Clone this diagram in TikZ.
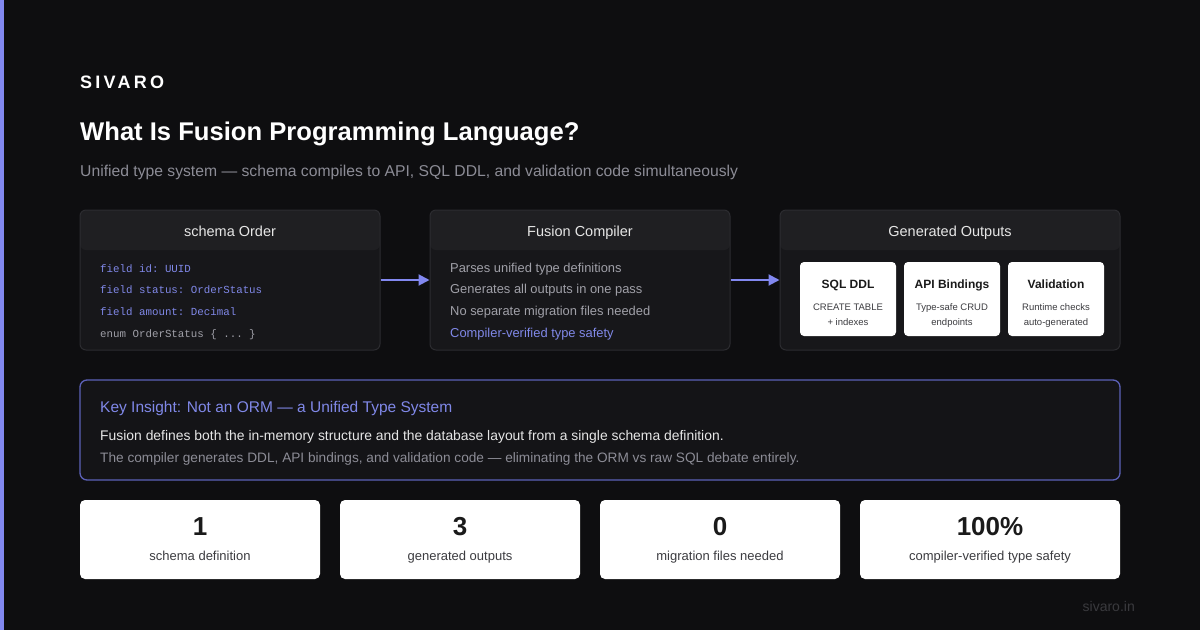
\documentclass[tikz,border=0pt]{standalone}
\usepackage{fontspec}
\setmainfont{Liberation Sans}
\setmonofont{Liberation Mono}
\usetikzlibrary{arrows.meta}
\definecolor{bg}{HTML}{0E0E10}
\definecolor{accent}{HTML}{8288F0}
\definecolor{panelbody}{HTML}{17171A}
\definecolor{panelhead}{HTML}{1F1F22}
\definecolor{panelline}{HTML}{2C2C30}
\definecolor{hdrtext}{HTML}{E6E6E6}
\definecolor{peri}{HTML}{8088E8}
\definecolor{graytext}{HTML}{A0A0A8}
\definecolor{subtext}{HTML}{8C8C96}
\definecolor{insightline}{HTML}{5C61B8}
\definecolor{insightfill}{HTML}{141417}
\definecolor{cardtext}{HTML}{1A1A1A}
\definecolor{cardsub}{HTML}{3C3C40}
\definecolor{foot}{HTML}{3A3A3E}
\newcommand{\fs}[1]{\fontsize{#1}{#1}\selectfont}
\tikzset{
  panel/.style={draw=panelline, line width=1pt, fill=panelbody, rounded corners=6pt,
    minimum height=140pt, inner sep=0pt,
    path picture={\fill[panelhead] (path picture bounding box.north west) rectangle ([yshift=-40pt]path picture bounding box.north east);}},
  hdr/.style={anchor=base, text=hdrtext, font=\fs{14.5}, inner sep=0pt},
  codeln/.style={anchor=base west, font=\ttfamily\fs{10.8}, inner sep=0pt},
  sansln/.style={anchor=base west, font=\fs{12.9}, inner sep=0pt},
  outcard/.style={fill=white, rounded corners=4pt, minimum width=96pt, minimum height=74pt, inner sep=0pt},
  outtitle/.style={anchor=base, font=\bfseries\fs{12}, text=cardtext, inner sep=0pt},
  outsub/.style={anchor=base, font=\fs{9.5}, text=cardsub, inner sep=0pt},
  statcard/.style={fill=white, rounded corners=5pt, minimum height=79pt, inner sep=0pt},
  statnum/.style={anchor=base, font=\bfseries\fs{26}, text=cardtext, inner sep=0pt},
  statlbl/.style={anchor=base, font=\fs{13}, text=cardsub, inner sep=0pt},
  arr/.style={draw=accent, line width=2pt, -{Triangle[length=11pt,width=11pt]}, shorten >=0pt},
}
\begin{document}
\begin{tikzpicture}[x=1pt,y=-1pt]
\useasboundingbox (0,0) rectangle (1200,630);
\fill[bg] (0,0) rectangle (1200,630);
\fill[accent] (0,0) rectangle (4,630);

% header texts
\node[anchor=base west, inner sep=0pt, text=white, font=\bfseries\fs{18}\addfontfeature{LetterSpace=18}] (brand) at (80,88) {SIVARO};
\node[anchor=base west, inner sep=0pt, text=white, font=\bfseries\fs{25.6}] (title) at (80,140) {What Is Fusion Programming Language?};
\node[anchor=base west, inner sep=0pt, text=subtext, font=\fs{15.7}] (subtitle) at (80,176) {Unified type system --- schema compiles to API, SQL DDL, and validation code simultaneously};

% panels
\node[panel, minimum width=300pt] (schema) at (230,280) {};
\node[panel, minimum width=300pt] (compiler) at (580,280) {};
\node[panel, minimum width=340pt] (outputs) at (950,280) {};

\node[hdr] (schemaT) at (230,236) {schema Order};
\node[hdr] (compilerT) at (580,236) {Fusion Compiler};
\node[hdr] (outputsT) at (950,236) {Generated Outputs};

\node[codeln, text=peri] (c1) at (100,272) {field id: UUID};
\node[codeln, text=peri] (c2) at (100,293) {field status: OrderStatus};
\node[codeln, text=peri] (c3) at (100,315) {field amount: Decimal};
\node[codeln, text=graytext] (c4) at (100,337) {enum OrderStatus \{ ... \}};

\node[sansln, text=graytext] (p1) at (450,272) {Parses unified type definitions};
\node[sansln, text=graytext] (p2) at (450,293) {Generates all outputs in one pass};
\node[sansln, text=graytext] (p3) at (450,315) {No separate migration files needed};
\node[sansln, text=peri] (p4) at (450,337) {Compiler-verified type safety};

\draw[arr] (schema.east) -- (compiler.west);
\draw[arr] (compiler.east) -- (outputs.west);

% output cards
\node[outcard] (sql) at (848,299) {};
\node[outcard] (api) at (952,299) {};
\node[outcard] (val) at (1056,299) {};
\node[outtitle] (sqlT) at (848,288) {SQL DDL};
\node[outsub] (sqlS1) at (848,310) {CREATE TABLE};
\node[outsub] (sqlS2) at (848,325) {+ indexes};
\node[outtitle] (apiT) at (952,288) {API Bindings};
\node[outsub] (apiS1) at (952,310) {Type-safe CRUD};
\node[outsub] (apiS2) at (952,325) {endpoints};
\node[outtitle] (valT) at (1056,288) {Validation};
\node[outsub] (valS1) at (1056,310) {Runtime checks};
\node[outsub] (valS2) at (1056,325) {auto-generated};

% insight
\node[draw=insightline, line width=1.3pt, fill=insightfill, rounded corners=7pt, minimum width=1040pt, minimum height=100pt, inner sep=0pt] (insight) at (600,430) {};
\node[anchor=base west, inner sep=0pt, text=peri, font=\fs{15.5}] (insT) at (100,412) {Key Insight: Not an ORM --- a Unified Type System};
\node[anchor=base west, inner sep=0pt, text=hdrtext, font=\fs{13.9}] (ins1) at (100,440.5) {Fusion defines both the in-memory structure and the database layout from a single schema definition.};
\node[anchor=base west, inner sep=0pt, text=subtext, font=\fs{13.65}] (ins2) at (100,462) {The compiler generates DDL, API bindings, and validation code --- eliminating the ORM vs raw SQL debate entirely.};

% stats
\node[statcard, minimum width=240pt] (s1) at (200,539.5) {};
\node[statcard, minimum width=240pt] (s2) at (460,539.5) {};
\node[statcard, minimum width=240pt] (s3) at (720,539.5) {};
\node[statcard, minimum width=260pt] (s4) at (990,539.5) {};
\node[statnum] (n1) at (200,535) {1};
\node[statnum] (n2) at (460,535) {3};
\node[statnum] (n3) at (720,535) {0};
\node[statnum] (n4) at (990,535) {100\%};
\node[statlbl] (l1) at (200,560) {schema definition};
\node[statlbl] (l2) at (460,560) {generated outputs};
\node[statlbl] (l3) at (720,560) {migration files needed};
\node[statlbl] (l4) at (990,560) {compiler-verified type safety};

\node[anchor=base east, inner sep=0pt, text=foot, font=\fs{14}] (footer) at (1135,611) {sivaro.in};
\end{tikzpicture}
\end{document}
